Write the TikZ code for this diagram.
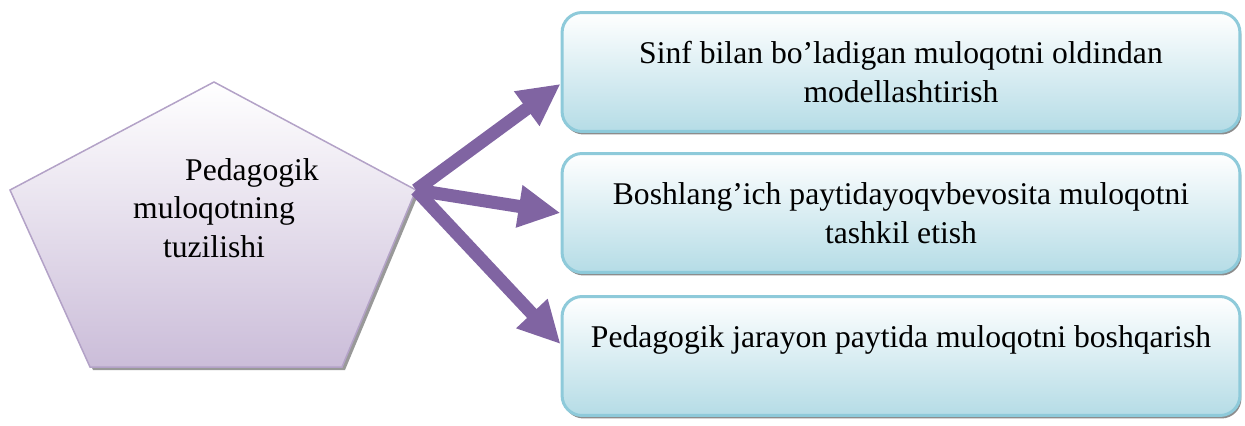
\documentclass[tikz,border=0pt]{standalone}
\usepackage{fontspec}
\setmainfont{Liberation Serif}
\usetikzlibrary{arrows.meta,shadows}

\definecolor{arrowpurple}{HTML}{8064A2}
\definecolor{pentaline}{HTML}{B3A2C7}
\definecolor{pentabottom}{HTML}{CBBDD9}
\definecolor{boxline}{HTML}{8ECADA}
\definecolor{boxbottom}{HTML}{B5DCE6}

\tikzset{
	stepbox/.style={draw=boxline, line width=0.6mm, rounded corners=0.4cm,
		top color=white, bottom color=boxbottom, align=center,
		minimum width=13.56cm, minimum height=2.38cm,
		font=\fontsize{18}{22}\selectfont,
		drop shadow={shadow xshift=0.3mm, shadow yshift=-0.6mm, fill=black!45, opacity=1}},
	bigarrow/.style={draw=arrowpurple, line width=0.26cm,
		-{Triangle[length=0.84cm,width=0.8cm]}}
}

\begin{document}
\begin{tikzpicture}[x=0.02cm, y=-0.02cm]
		%%%%% START %%%%%
		\useasboundingbox (0, 0) rectangle (1245, 426);
		
		% the pentagon
		\coordinate (top) at (214, 82);
		\coordinate (apex) at (416, 190);
		\draw[draw=pentaline, line width=0.3mm, top color=white, bottom color=pentabottom,
			drop shadow={shadow xshift=0.6mm, shadow yshift=-0.6mm, fill=black!40, opacity=1}]
			(top) -- (apex) -- (342, 367) -- (90, 367) -- (10, 190) -- cycle;
		\node[align=center, font=\fontsize{18}{22}\selectfont] (ped) at (214, 208)
			{\hspace*{1.52cm}Pedagogik\\ muloqotning\\ tuzilishi};
		
		% the three boxes
		\node[stepbox] (b1) at (901, 72) {Sinf bilan bo’ladigan muloqotni oldindan\\ modellashtirish};
		\node[stepbox] (b2) at (901, 213) {Boshlang’ich paytidayoqvbevosita muloqotni\\ tashkil etish};
		\node[stepbox] (b3) at (901, 356) {Pedagogik jarayon paytida muloqotni boshqarish\\ \mbox{}};
		
		% arrows
		\draw[bigarrow] (apex) -- (b1.182);
		\draw[bigarrow] (apex) -- (b2.west);
		\draw[bigarrow] (apex) -- (b3.178);
		
		%%%%% END %%%%%
	\end{tikzpicture}
\end{document}
